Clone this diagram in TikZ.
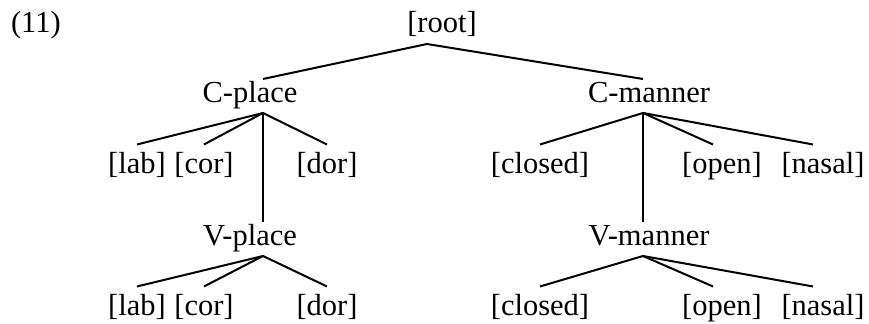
\documentclass[tikz,border=0pt]{standalone}
\usepackage{fontspec}
\setmainfont{Liberation Serif}
\usepackage{tikz}

\begin{document}
\begin{tikzpicture}[x=0.4pt,y=-0.4pt,line width=0.8pt,
  every node/.style={inner sep=0pt,anchor=base,font=\fontsize{12.2}{14}\selectfont},
  mid/.style={text height=9.2pt,text depth=3.6pt},
  leaf/.style={text height=11.4pt,text depth=3pt}]
\useasboundingbox (0,0) rectangle (869,324);

\node[anchor=base west] (num) at (10,33) {(11)};
\node[text depth=4pt] (root) at (442,33) {[root]};

\node[mid] (cplace) at (250,103) {C-place};
\node[mid] (cmanner) at (649,103) {C-manner};

\node[leaf] (lab) at (137,174) {[lab]};
\node[leaf] (cor) at (204,174) {[cor]};
\node[leaf] (dor) at (327,174) {[dor]};
\node[leaf] (closed) at (540,174) {[closed]};
\node[leaf] (open) at (722,174) {[open]};
\node[leaf] (nasal) at (823,174) {[nasal]};

\node[mid] (vplace) at (250,246) {V-place};
\node[mid] (vmanner) at (649,246) {V-manner};

\node[leaf] (vlab) at (137,316) {[lab]};
\node[leaf] (vcor) at (204,316) {[cor]};
\node[leaf] (vdor) at (327,316) {[dor]};
\node[leaf] (vclosed) at (540,316) {[closed]};
\node[leaf] (vopen) at (722,316) {[open]};
\node[leaf] (vnasal) at (823,316) {[nasal]};

\draw ([xshift=-6pt]root.south) -- ([xshift=5.2pt]cplace.north);
\draw ([xshift=-6pt]root.south) -- ([xshift=-2.4pt]cmanner.north);

\draw ([xshift=5.2pt]cplace.south) -- (lab.north);
\draw ([xshift=5.2pt]cplace.south) -- (cor.north);
\draw ([xshift=5.2pt]cplace.south) -- (dor.north);
\draw ([xshift=5.2pt]cplace.south) -- ([xshift=5.2pt]vplace.north);

\draw ([xshift=-2.4pt]cmanner.south) -- (closed.north);
\draw ([xshift=-2.4pt]cmanner.south) -- ([xshift=-3.6pt]open.north);
\draw ([xshift=-2.4pt]cmanner.south) -- ([xshift=-4pt]nasal.north);
\draw ([xshift=-2.4pt]cmanner.south) -- ([xshift=-2.4pt]vmanner.north);

\draw ([xshift=5.2pt]vplace.south) -- (vlab.north);
\draw ([xshift=5.2pt]vplace.south) -- (vcor.north);
\draw ([xshift=5.2pt]vplace.south) -- (vdor.north);

\draw ([xshift=-2.4pt]vmanner.south) -- (vclosed.north);
\draw ([xshift=-2.4pt]vmanner.south) -- ([xshift=-3.6pt]vopen.north);
\draw ([xshift=-2.4pt]vmanner.south) -- ([xshift=-4pt]vnasal.north);

\end{tikzpicture}
\end{document}
